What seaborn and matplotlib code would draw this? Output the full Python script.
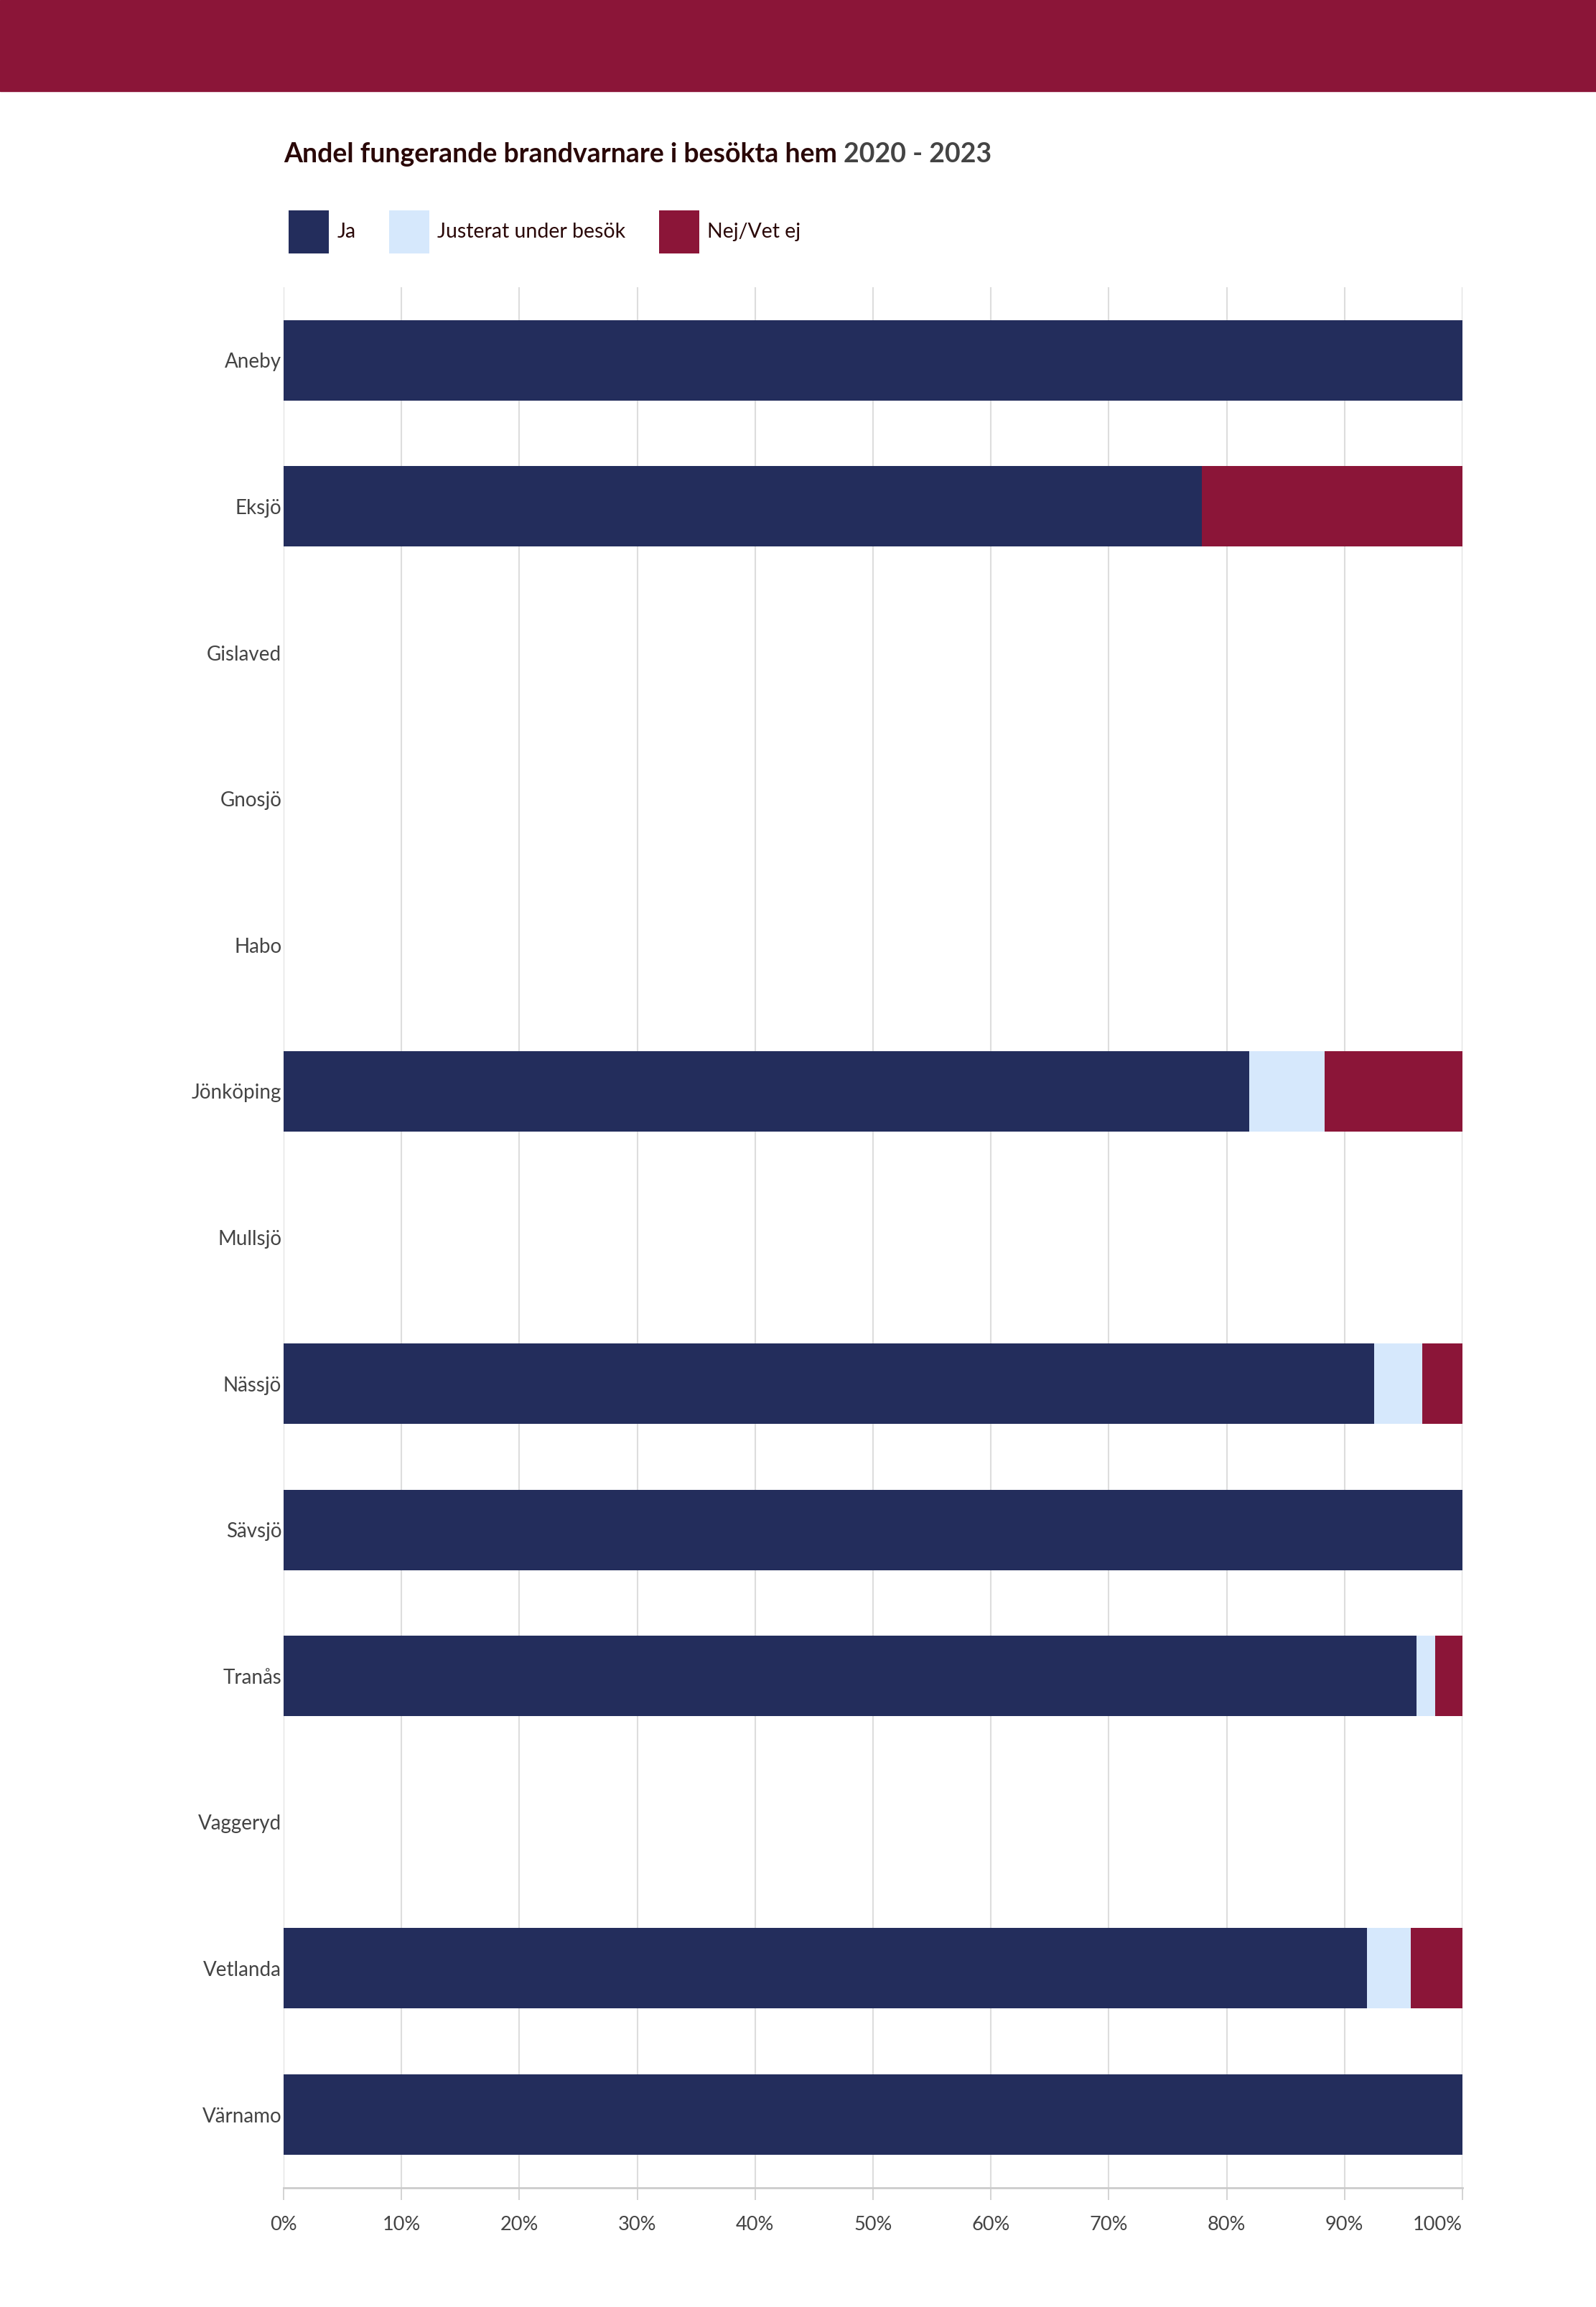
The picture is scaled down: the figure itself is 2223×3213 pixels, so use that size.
import seaborn as sns
import matplotlib.pyplot as plt
import pandas as pd
import numpy as np
from matplotlib.patches import Patch, Rectangle

# data (andel i procent)
kommuner = ["Aneby", "Eksjö", "Gislaved", "Gnosjö", "Habo", "Jönköping", "Mullsjö",
            "Nässjö", "Sävsjö", "Tranås", "Vaggeryd", "Vetlanda", "Värnamo"]
ja = [100, 77.9, 0, 0, 0, 81.9, 0, 92.5, 100, 96.1, 0, 91.9, 100]
justerat = [0, 0, 0, 0, 0, 6.4, 0, 4.1, 0, 1.6, 0, 3.7, 0]
nej = [0, 22.1, 0, 0, 0, 11.7, 0, 3.4, 0, 2.3, 0, 4.4, 0]

serier = ["Ja", "Justerat under besök", "Nej/Vet ej"]
farger = ["#232d5c", "#d6e8fc", "#8b1538"]

df = pd.DataFrame({"kommun": kommuner, "Ja": ja, "Justerat": justerat, "Nej": nej})
df["c1"] = df["Ja"]
df["c2"] = df["Ja"] + df["Justerat"]
df["c3"] = df["Ja"] + df["Justerat"] + df["Nej"]

sns.set_theme(style="white")
plt.rcParams["font.family"] = ["Lato", "DejaVu Sans"]

fig = plt.figure(figsize=(22.23, 32.13), dpi=100)
ax = fig.add_axes([0.1777, 0.0517, 0.7386, 0.8238])

# staplade staplar: kumulativa summor ritade bakifrån
for col, f in zip(["c3", "c2", "c1"], farger[::-1]):
    sns.barplot(data=df, y="kommun", x=col, order=kommuner, color=f,
                width=0.55, linewidth=0, saturation=1, ax=ax, orient="h")

ax.set_xlim(0, 100)
ax.set_xticks(np.arange(0, 101, 10))
ax.set_xticklabels([f"{v}%" for v in range(0, 101, 10)])
ax.get_xticklabels()[-1].set_ha("right")
ax.set_xlabel("")
ax.set_ylabel("")
ax.grid(axis="x", color="#dddddd", linewidth=1.5)
ax.set_axisbelow(True)
for s in ["top", "right", "left"]:
    ax.spines[s].set_visible(False)
ax.spines["bottom"].set_color("#cccccc")
ax.spines["bottom"].set_linewidth(2)
ax.tick_params(axis="x", colors="#cccccc", labelcolor="#444444", labelsize=19.5,
               length=12, width=1.2, pad=16, bottom=True)
ax.tick_params(axis="y", length=0, labelsize=20, labelcolor="#444444", pad=2)

# rubrikband
fig.patches.append(Rectangle((0, 0.9605), 1, 0.0395, transform=fig.transFigure,
                             color="#8b1538", zorder=0))

# titel i två delar
t1 = fig.text(0.1777, 0.933, "Andel fungerande brandvarnare i besökta hem",
              fontsize=27, fontweight="bold", color="#2a0808", va="center")
fig.canvas.draw()
bb = t1.get_window_extent(fig.canvas.get_renderer())
x2 = bb.x1 / fig.bbox.width
fig.text(x2 + 0.004, 0.933, "2020 - 2023", fontsize=27, fontweight="bold",
         color="#444444", va="center")

handles = [Patch(facecolor=f, edgecolor="none", label=l) for f, l in zip(farger, serier)]
fig.legend(handles=handles, loc="center left", bbox_to_anchor=(0.1695, 0.8995),
           ncol=3, frameon=False, fontsize=20.5, handlelength=1.95, handleheight=2.9,
           handletextpad=0.4, columnspacing=1.65, labelcolor="#2a0808")

fig.savefig("out.png", dpi=100)
